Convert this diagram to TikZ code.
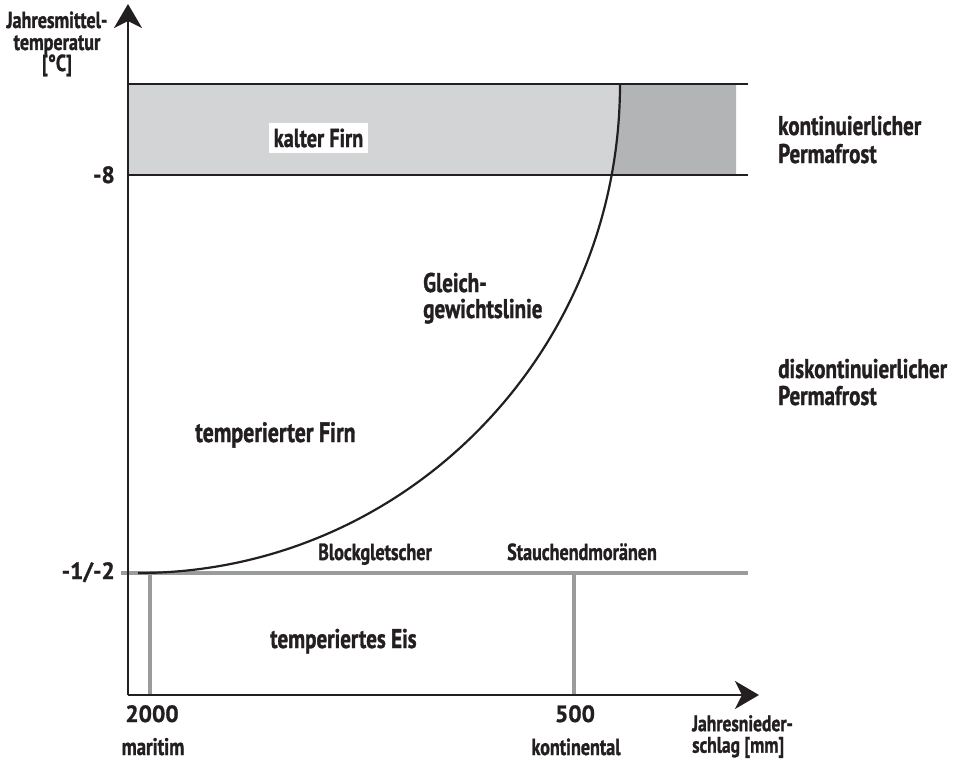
\documentclass[tikz,border=0pt]{standalone}
\usepackage{fontspec}
\setmainfont{PT Sans}[FakeStretch=0.78, BoldFeatures={FakeBold=1.2}]
\newfontfamily\numfont{PT Sans}[BoldFeatures={FakeBold=1.2}]
\usetikzlibrary{arrows.meta}
\definecolor{lightband}{HTML}{D3D4D6}
\definecolor{darkband}{HTML}{B3B4B6}
\definecolor{greyline}{HTML}{9A9B9D}
\definecolor{ink}{HTML}{231F20}
\begin{document}
\begin{tikzpicture}[x=1pt,y=-1pt,
  big/.style={font=\bfseries\fontsize{27}{29}\selectfont, text=ink, inner sep=0pt},
  mid/.style={font=\bfseries\fontsize{27}{29}\selectfont, text=ink, inner sep=0pt},
  small/.style={font=\bfseries\fontsize{23.2}{24}\selectfont, text=ink, inner sep=0pt},
  num/.style={font=\numfont\bfseries\fontsize{23.5}{25}\selectfont, text=ink, inner sep=0pt},
  axis/.style={line width=1.8pt, draw=ink, -{Stealth[length=24pt,width=28pt,inset=7pt]}},
  bandline/.style={line width=1.6pt, draw=ink},
  greyrule/.style={line width=3.6pt, draw=greyline},
  curve/.style={line width=2.2pt, draw=ink}]
\useasboundingbox (0,0) rectangle (959,760);
% key coordinates
\coordinate (O) at (128,695);
\coordinate (ytip) at (128,4);
\coordinate (xtip) at (759,695);
\coordinate (bandTL) at (128,84);
\coordinate (bandBR) at (736,175);
\coordinate (c0) at (138,573);
\coordinate (c1) at (620,84);
% band fills
\fill[lightband] (bandTL) rectangle (bandBR);
\begin{scope}
  \clip (bandTL) rectangle (bandBR);
  \fill[darkband] (c0) .. controls (404.2,573) and (620,354.1) .. (c1) -- (736,84) -- (736,573) -- cycle;
\end{scope}
% band lines
\coordinate (bt0) at (128,84);  \coordinate (bt1) at (748,84);
\coordinate (bb0) at (128,175); \coordinate (bb1) at (748,175);
\draw[bandline] (bt0) -- (bt1);
\draw[bandline] (bb0) -- (bb1);
% grey rules
\coordinate (g0) at (121,573); \coordinate (g1) at (748,573);
\coordinate (v1a) at (150,573); \coordinate (v1b) at (150,695);
\coordinate (v2a) at (574,573); \coordinate (v2b) at (574,695);
\draw[greyrule] (g0) -- (g1);
\draw[greyrule] (v1a) -- (v1b);
\draw[greyrule] (v2a) -- (v2b);
% equilibrium curve
\draw[curve] (c0) .. controls (404.2,573) and (620,354.1) .. (c1);
% axes
\draw[axis] (O) -- (ytip);
\draw[axis] (O) -- (xtip);
% labels
\node[small, anchor=base] (yl1) at (57,28) {Jahresmittel-};
\node[small, anchor=base] (yl2) at (57,50) {temperatur};
\node[small, anchor=base] (yl3) at (57,71) {[°C]};
\node[num, anchor=base east] (m8) at (115,183) {-8};
\node[num, anchor=base east] (m12) at (115,579) {-1/-2};
\node[mid, font=\bfseries\fontsize{26}{28}\selectfont, fill=white, minimum width=99pt, minimum height=30pt] (kf) at (318.5,138) {kalter Firn};
\node[big, anchor=base west] (k1) at (778,135) {kontinuierlicher};
\node[big, anchor=base west] (k2) at (778,163) {Permafrost};
\node[big, anchor=base west] (d1) at (778,378) {diskontinuierlicher};
\node[big, anchor=base west] (d2) at (778,405) {Permafrost};
\node[mid, anchor=base west] (gl1) at (423,292) {Gleich-};
\node[mid, anchor=base west] (gl2) at (423,318) {gewichtslinie};
\node[mid, font=\bfseries\fontsize{28}{30}\selectfont, anchor=base west] (tf) at (195,442) {temperierter Firn};
\node[small, anchor=base] (bg) at (375,560) {Blockgletscher};
\node[small, anchor=base west] (sm) at (507,560) {Stauchendmoränen};
\node[mid, anchor=base west] (te) at (270,648) {temperiertes Eis};
\node[num, anchor=base] (n2000) at (152,722) {2000};
\node[num, anchor=base] (n500) at (575,722) {500};
\node[small, font=\bfseries\fontsize{24}{25}\selectfont, anchor=base] (mar) at (153,755) {maritim};
\node[small, anchor=base] (kon) at (576,755) {kontinental};
\node[small, font=\bfseries\fontsize{22.5}{21.5}\selectfont, align=left, anchor=north west] (xl) at (692,715) {Jahresnieder-\\schlag [mm]};
\end{tikzpicture}
\end{document}
